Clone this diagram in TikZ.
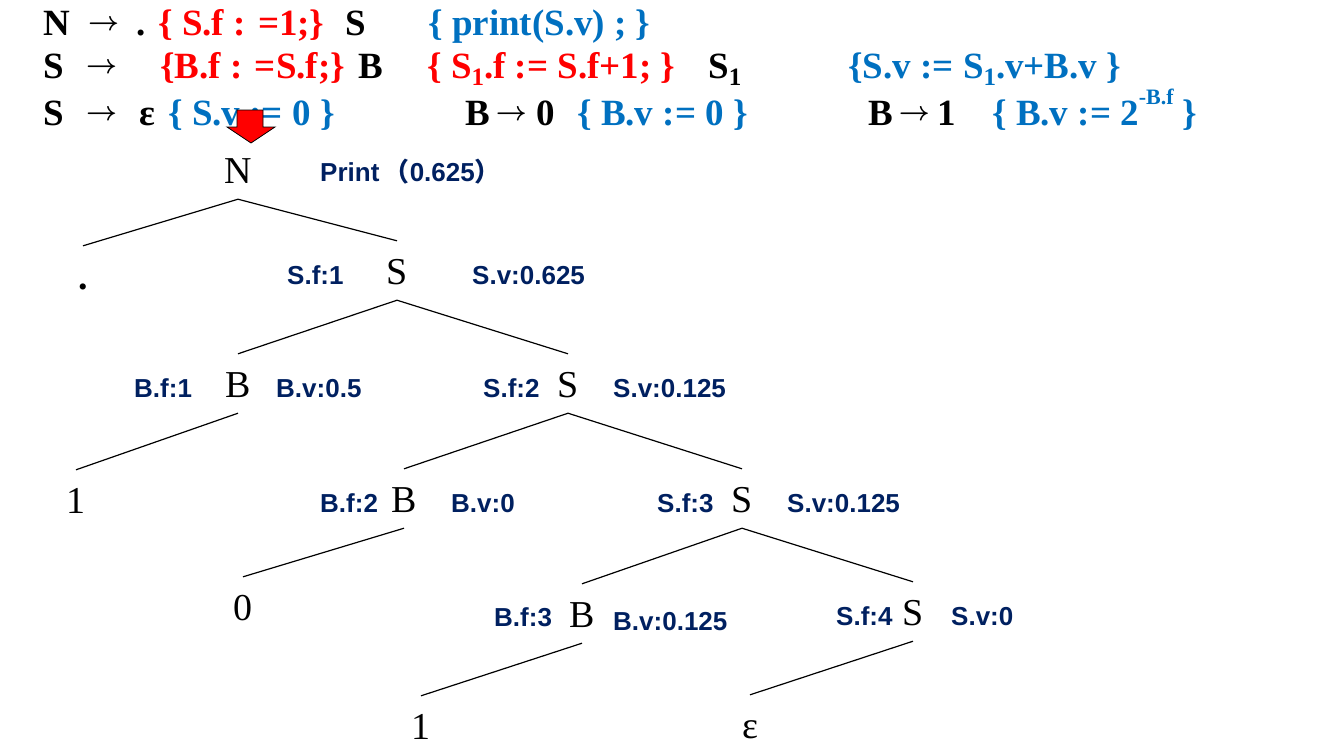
\documentclass[tikz,border=0pt]{standalone}
\usepackage{fontspec}
\usepackage{graphicx}
\setmainfont{Liberation Serif}
\setsansfont{Liberation Sans}
\newfontfamily\cjk{Noto Sans CJK SC}
\definecolor{rulered}{RGB}{255,0,0}
\definecolor{ruleblue}{RGB}{0,112,192}
\definecolor{attrblue}{RGB}{0,32,96}
\newcommand{\subone}{\raisebox{-0.2em}{\fontsize{25}{25}\selectfont 1}}
\newcommand{\supbf}[1]{\raisebox{0.55em}{\fontsize{22}{22}\selectfont #1}}
\newcommand{\ra}{\raisebox{5pt}{\resizebox{31pt}{!}{\boldmath$\rightarrow$}}}

\begin{document}
\begin{tikzpicture}
        [x=1pt, y=-1pt,
        rule/.style={anchor=base west, inner sep=0pt, font=\fontsize{37}{37}\selectfont\bfseries},
        tnode/.style={anchor=base, inner xsep=2pt, inner ysep=16pt, text height=27pt, text depth=0pt, font=\fontsize{38}{38}\selectfont},
        attr/.style={anchor=base west, inner sep=0pt, text=attrblue, font=\fontsize{26}{26}\selectfont\sffamily\bfseries},
        edge/.style={line width=1.2pt, black},
        downarrow/.style={fill=rulered, draw=black, line width=0.8pt}]

        \useasboundingbox (0,0) rectangle (1324,745);

        % semantic rules, first line
        \node[rule] (r1n) at (43,35) {N};
        \node[rule] (r1a) at (88,35) {\ra};
        \node[rule] (r1d) at (136,35) {.};
        \node[rule, text=rulered] (r1f) at (158,35) {\{ S.f : =1;\}};
        \node[rule] (r1s) at (345,35) {S};
        \node[rule, text=ruleblue] (r1p) at (428,35) {\{ print(S.v) ; \}};

        % second line
        \node[rule] (r2s) at (43,78) {S};
        \node[rule] (r2a) at (86,78) {\ra};
        \node[rule, text=rulered] (r2bf) at (160,78) {\{B.f : =S.f;\}};
        \node[rule] (r2b) at (358,78) {B};
        \node[rule, text=rulered] (r2sf) at (427,78) {\{ S\subone.f := S.f+1; \}};
        \node[rule] (r2s1) at (708,78) {S\subone};
        \node[rule, text=ruleblue] (r2sv) at (848,78) {\{S.v := S\subone.v+B.v \}};

        % third line
        \node[rule] (r3s) at (43,125) {S};
        \node[rule] (r3a) at (86,125) {\ra};
        \node[rule] (r3e) at (139,125) {ε};
        \node[rule, text=ruleblue] (r3sv) at (168,125) {\{ S.v := 0 \}};
        \node[rule] (r3b0) at (465,125) {B\hspace{6pt}\ra\hspace{10pt}0};
        \node[rule, text=ruleblue] (r3bv0) at (577,125) {\{ B.v := 0 \}};
        \node[rule] (r3b1) at (868,125) {B\hspace{6pt}\ra\hspace{8pt}1};
        \node[rule, text=ruleblue] (r3bv1) at (992,125) {\{ B.v := 2\supbf{-B.f} \}};

        % red arrow pointing at the root
        \draw[downarrow] (237,110) -- (263,110) -- (263,127) -- (275,127)
          -- (251,143) -- (227,127) -- (237,127) -- cycle;

        % tree nodes
        \node[tnode] (n) at (238,183) {N};
        \node[tnode] (dot) at (83,289) {\bfseries .};
        \node[tnode] (s1) at (397,284) {S};
        \node[tnode] (b1) at (238,397) {B};
        \node[tnode] (s2) at (568,397) {S};
        \node[tnode] (one1) at (76,513) {1};
        \node[tnode] (b2) at (404,512) {B};
        \node[tnode] (s3) at (742,512) {S};
        \node[tnode] (zero) at (243,620) {0};
        \node[tnode] (b3) at (582,627) {B};
        \node[tnode] (s4) at (913,625) {S};
        \node[tnode] (one2) at (421,739) {1};
        \node[tnode] (eps) at (750,738) {ε};

        % attribute values
        \node[attr] (pr) at (320,181) {Print\,{\cjk （}0.625{\cjk ）}};
        \node[attr] (s1f) at (287,284) {S.f:1};
        \node[attr] (s1v) at (472,284) {S.v:0.625};
        \node[attr] (b1f) at (134,397) {B.f:1};
        \node[attr] (b1v) at (276,397) {B.v:0.5};
        \node[attr] (s2f) at (483,397) {S.f:2};
        \node[attr] (s2v) at (613,397) {S.v:0.125};
        \node[attr] (b2f) at (320,512) {B.f:2};
        \node[attr] (b2v) at (451,512) {B.v:0};
        \node[attr] (s3f) at (657,512) {S.f:3};
        \node[attr] (s3v) at (787,512) {S.v:0.125};
        \node[attr] (b3f) at (494,626) {B.f:3};
        \node[attr] (b3v) at (613,630) {B.v:0.125};
        \node[attr] (s4f) at (836,625) {S.f:4};
        \node[attr] (s4v) at (951,625) {S.v:0};

        % tree edges
        \draw[edge] (n.south) -- (dot.north);
        \draw[edge] (n.south) -- (s1.north);
        \draw[edge] (s1.south) -- (b1.north);
        \draw[edge] (s1.south) -- (s2.north);
        \draw[edge] (b1.south) -- (one1.north);
        \draw[edge] (s2.south) -- (b2.north);
        \draw[edge] (s2.south) -- (s3.north);
        \draw[edge] (b2.south) -- (zero.north);
        \draw[edge] (s3.south) -- (b3.north);
        \draw[edge] (s3.south) -- (s4.north);
        \draw[edge] (b3.south) -- (one2.north);
        \draw[edge] (s4.south) -- (eps.north);

        \end{tikzpicture}
\end{document}
